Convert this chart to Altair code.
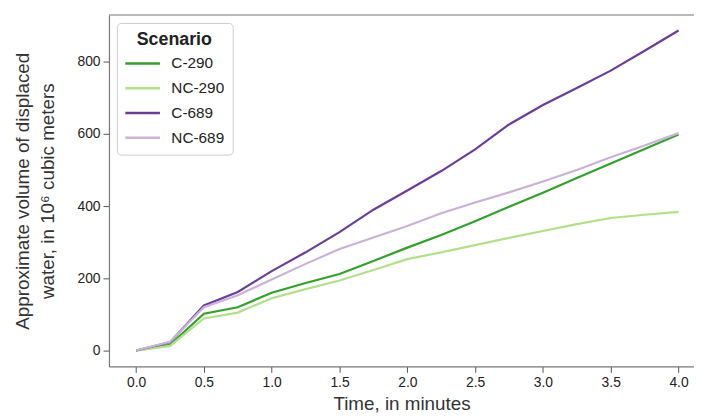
import altair as alt
import pandas as pd

# Data
time_min = [0, 0.25, 0.5, 0.75, 1.0, 1.25, 1.5, 1.75, 2.0, 2.25, 2.5, 2.75, 3.0, 3.25, 3.5, 3.75, 4.0]
c290 = [0, 16, 102, 120, 160, 187, 212, 248, 285, 320, 358, 398, 437, 478, 518, 558, 598]
nc290 = [0, 13, 89, 105, 145, 170, 194, 223, 253, 272, 292, 312, 331, 350, 367, 376, 384]
c689 = [0, 23, 125, 162, 220, 272, 328, 390, 443, 497, 557, 626, 680, 727, 775, 830, 886]
nc689 = [0, 24, 120, 153, 197, 240, 281, 313, 345, 380, 410, 438, 468, 500, 535, 568, 602]

scenarios = ["C-290", "NC-290", "C-689", "NC-689"]
colors = ["#33a02c", "#b2df8a", "#6a3d9a", "#cab2d6"]
x_ticks = [0, 0.5, 1.0, 1.5, 2.0, 2.5, 3.0, 3.5, 4.0]
y_ticks = [0, 200, 400, 600, 800]

rows = []
for name, vals in zip(scenarios, [c290, nc290, c689, nc689]):
    for t, v in zip(time_min, vals):
        rows.append({"time": t, "volume": v, "scenario": name, "order": scenarios.index(name)})
df = pd.DataFrame(rows)

FONT = "Liberation Sans"

lines = alt.Chart(df).mark_line(strokeWidth=2.2).encode(
    x=alt.X("time:Q",
            scale=alt.Scale(domain=[-0.2, 4.114], nice=False, zero=False),
            axis=alt.Axis(values=x_ticks, format=".1f", title="Time, in minutes",
                          titlePadding=5)),
    y=alt.Y("volume:Q",
            scale=alt.Scale(domain=[-44, 929], nice=False, zero=False),
            axis=alt.Axis(values=y_ticks, format="d",
                          title=["Approximate volume of displaced", "water, in 10\u2076 cubic meters"],
                          titlePadding=20, titleLineHeight=25)),
    color=alt.Color("scenario:N",
                    scale=alt.Scale(domain=scenarios, range=colors),
                    sort=scenarios,
                    legend=alt.Legend(
                        orient="none", legendX=8, legendY=8,
                        title="Scenario", titleFont=FONT, titleFontSize=18,
                        titleFontWeight="bold", titleAnchor="middle", titleColor="#222",
                        titlePadding=5,
                        labelFont=FONT, labelFontSize=15.5, labelColor="#222",
                        labelOffset=19,
                        symbolType="M-2,0H2", symbolSize=306, symbolStrokeWidth=2.5,
                        symbolOffset=8,
                        rowPadding=6, padding=8, cornerRadius=4,
                        strokeColor="#cccccc", fillColor="white")),
    detail="scenario:N",
    order=alt.Order("order:Q"),
)

top_border = alt.Chart(pd.DataFrame({"a": [0]})).mark_rule(color="#777777", strokeWidth=1.2).encode(
    y=alt.value(0)
)

chart = alt.layer(lines, top_border).properties(
    width=591, height=355,
    padding={"left": 102, "top": 5, "right": 0, "bottom": 51},
    autosize=alt.AutoSizeParams(type="none"),
).configure_view(
    strokeWidth=0
).configure_axis(
    grid=False,
    domainColor="#777777", domainWidth=1.2,
    tickColor="#555555", tickSize=6, tickWidth=1,
    labelFont=FONT, labelFontSize=14, labelColor="#222222", labelPadding=3,
    titleFont=FONT, titleFontSize=19, titleFontWeight="normal", titleColor="#333333",
)

chart.save("out.html", embed_options={"renderer": "svg", "actions": False})
